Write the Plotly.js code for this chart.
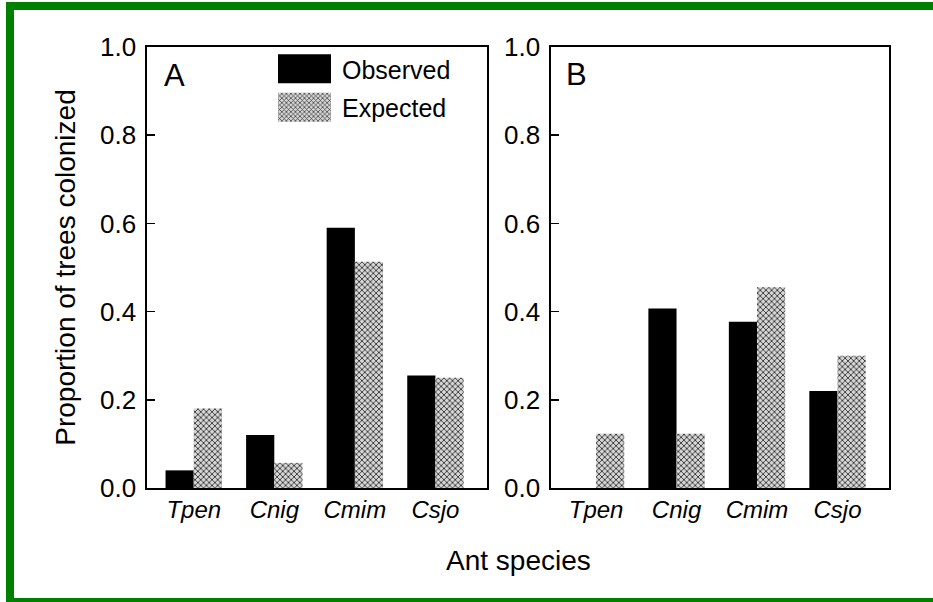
<!DOCTYPE html>
<html>
<head>
<meta charset="utf-8">
<script src="https://cdn.plot.ly/plotly-3.0.1.min.js"></script>
<style>html,body{margin:0;padding:0;background:#fff;}#chart{width:933px;height:602px;}</style>
</head>
<body>
<div id="chart"></div>
<script>
const categories = ['Tpen', 'Cnig', 'Cmim', 'Csjo'];
const observedA = [0.04, 0.12, 0.59, 0.255];
const expectedA = [0.18, 0.057, 0.513, 0.25];
const observedB = [0, 0.407, 0.377, 0.22];
const expectedB = [0.123, 0.123, 0.455, 0.30];
const yTicks = [0, 0.2, 0.4, 0.6, 0.8, 1.0];

const FONT = 'Liberation Sans, Arial, Helvetica, sans-serif';
const obsMarker = {color: '#000000', line: {width: 0}};
const expMarker = {
  color: '#b0b0b0',
  line: {width: 0},
  pattern: {shape: 'x', fgcolor: '#333333', bgcolor: '#d6d6d6', size: 4, solidity: 0.4, fillmode: 'replace'}
};

const traces = [
  {type: 'bar', name: 'Observed', x: categories, y: observedA, xaxis: 'x', yaxis: 'y', marker: obsMarker, legendgroup: 'o', showlegend: true},
  {type: 'bar', name: 'Expected', x: categories, y: expectedA, xaxis: 'x', yaxis: 'y', marker: expMarker, legendgroup: 'e', showlegend: true},
  {type: 'bar', name: 'Observed', x: categories, y: observedB, xaxis: 'x2', yaxis: 'y2', marker: obsMarker, legendgroup: 'o', showlegend: false},
  {type: 'bar', name: 'Expected', x: categories, y: expectedB, xaxis: 'x2', yaxis: 'y2', marker: expMarker, legendgroup: 'e', showlegend: false}
];

const W = 933, H = 602;
const px = v => v / W, py = v => 1 - v / H;

const xBase = {
  type: 'category', categoryorder: 'array', categoryarray: categories,
  range: [-0.58, 3.64], showline: true, mirror: true, linecolor: '#000', linewidth: 1.6,
  ticks: '', showgrid: false, zeroline: false,
  tickfont: {family: FONT, size: 24, color: '#000', style: 'italic'}, fixedrange: true
};
const yBase = {
  range: [0, 1.0], tickvals: yTicks, tickformat: '.1f', showline: true, mirror: true,
  linecolor: '#000', linewidth: 1.6, ticks: 'inside', ticklen: 8, tickwidth: 1.5, tickcolor: '#000',
  ticklabelstandoff: 4,
  showgrid: false, zeroline: false, tickfont: {family: FONT, size: 26, color: '#000'}, fixedrange: true
};

const layout = {
  width: W, height: H,
  margin: {l: 0, r: 0, t: 0, b: 0},
  paper_bgcolor: '#fff', plot_bgcolor: '#fff',
  font: {family: FONT, color: '#000'},
  barmode: 'group', bargap: 0.3, bargroupgap: 0,
  xaxis: Object.assign({}, xBase, {domain: [px(147), px(487)], anchor: 'y'}),
  yaxis: Object.assign({}, yBase, {domain: [py(488), py(47)], anchor: 'x',
    title: {text: 'Proportion of trees colonized', font: {family: FONT, size: 28, color: '#000'}, standoff: 16}}),
  xaxis2: Object.assign({}, xBase, {domain: [px(551), px(889)], anchor: 'y2', range: [-0.56, 3.64]}),
  yaxis2: Object.assign({}, yBase, {domain: [py(488), py(47)], anchor: 'x2'}),
  showlegend: true,
  legend: {
    x: px(262), y: py(46), xanchor: 'left', yanchor: 'top',
    bgcolor: 'rgba(0,0,0,0)', borderwidth: 0, itemwidth: 70,
    traceorder: 'grouped', tracegroupgap: 3,
    font: {family: FONT, size: 25, color: '#000'}
  },
  annotations: [
    {text: 'A', x: px(174), y: py(76), xref: 'paper', yref: 'paper', xanchor: 'center', yanchor: 'middle', showarrow: false, font: {family: FONT, size: 31, color: '#000'}},
    {text: 'B', x: px(576), y: py(75), xref: 'paper', yref: 'paper', xanchor: 'center', yanchor: 'middle', showarrow: false, font: {family: FONT, size: 31, color: '#000'}},
    {text: 'Ant species', x: px(518), y: py(560), xref: 'paper', yref: 'paper', xanchor: 'center', yanchor: 'middle', showarrow: false, font: {family: FONT, size: 28, color: '#000'}}
  ],
  shapes: [
    {type: 'rect', xref: 'paper', yref: 'paper', x0: px(6), x1: 1, y0: py(10), y1: py(2), fillcolor: '#008000', line: {width: 0}},
    {type: 'rect', xref: 'paper', yref: 'paper', x0: px(6), x1: px(14), y0: 0, y1: py(2), fillcolor: '#008000', line: {width: 0}},
    {type: 'rect', xref: 'paper', yref: 'paper', x0: px(6), x1: 1, y0: 0, y1: py(598), fillcolor: '#008000', line: {width: 0}}
  ]
};

Plotly.newPlot('chart', traces, layout, {staticPlot: true, displayModeBar: false}).then(function (gd) {
  gd.querySelectorAll('.legend .traces').forEach(function (tr) {
    const txt = tr.querySelector('.legendtext');
    const path = tr.querySelector('.legendpoints path');
    if (!txt || !path) return;
    const tx = parseFloat(txt.getAttribute('x')) || 80;
    path.setAttribute('d', 'M26.5,14.5H-26.5V-14.5H26.5Z');
    path.setAttribute('transform', 'translate(' + (tx - 11 - 26.5) + ',0)');
  });
});
</script>
</body>
</html>
